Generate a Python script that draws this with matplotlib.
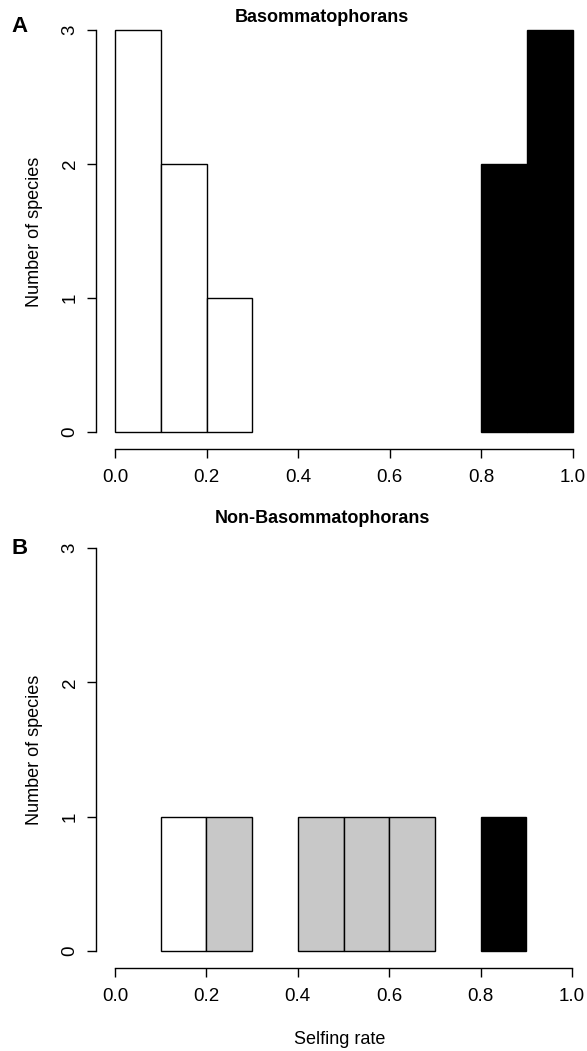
import matplotlib
matplotlib.use('Agg')
from matplotlib import pyplot as plt

plt.rcParams['font.family'] = ['Liberation Sans', 'DejaVu Sans']

# data
bin_edges = [0.0, 0.1, 0.2, 0.3, 0.4, 0.5, 0.6, 0.7, 0.8, 0.9]
basom_counts = [3, 2, 1, 0, 0, 0, 0, 0, 2, 3]
basom_colors = ['white', 'white', 'white', 'white', 'white', 'white', 'white', 'white', 'black', 'black']
nonbasom_counts = [0, 1, 1, 0, 1, 1, 1, 0, 1, 0]
nonbasom_colors = ['white', 'white', '#c8c8c8', 'white', '#c8c8c8', '#c8c8c8', '#c8c8c8', 'white', 'black', 'white']
x_ticks = [0.0, 0.2, 0.4, 0.6, 0.8, 1.0]
y_ticks = [0, 1, 2, 3]

W, H = 587, 1051
fig = plt.figure(figsize=(W / 100, H / 100), dpi=100)


def px_axes(left, top, right, bottom):
    return fig.add_axes([left / W, 1 - bottom / H, (right - left) / W, (bottom - top) / H])


def draw_panel(ax, counts, colors, x0_px, x1_px, y0_px, y3_px, left_px, right_px, top_px, bottom_px):
    xu = (x1_px - x0_px)
    yu = (y0_px - y3_px) / 3
    ax.set_xlim(-(x0_px - left_px) / xu, 1 + (right_px - x1_px) / xu)
    ax.set_ylim(-(bottom_px - y0_px) / yu, 3 + (y3_px - top_px) / yu)
    for edge, c, col in zip(bin_edges, counts, colors):
        if c > 0:
            ax.bar(edge, c, width=0.1, align='edge', color=col, edgecolor='black',
                   linewidth=1.0, clip_on=False)
    for s in ['top', 'right']:
        ax.spines[s].set_visible(False)
    ax.spines['left'].set_bounds(0, 3)
    ax.spines['bottom'].set_bounds(0, 1)
    ax.spines['left'].set_linewidth(1.0)
    ax.spines['bottom'].set_linewidth(1.0)
    ax.set_xticks(x_ticks)
    ax.set_xticklabels([f'{t:.1f}' for t in x_ticks])
    ax.set_yticks(y_ticks)
    ax.set_yticklabels([str(t) for t in y_ticks], rotation=90, va='center')
    ax.tick_params(axis='both', direction='out', length=6.5, width=1.0, labelsize=13.5)
    ax.tick_params(axis='x', pad=8)
    ax.tick_params(axis='y', pad=6)


# panel A
axA = px_axes(96, 14, 587, 449)
draw_panel(axA, basom_counts, basom_colors, 115, 573, 432, 30, 96, 587, 14, 449)
fig.text(322 / W, 1 - 17 / H, 'Basommatophorans', ha='center', va='center',
         fontsize=13, fontweight='bold')
fig.text(20 / W, 1 - 27 / H, 'A', ha='center', va='center', fontsize=16, fontweight='bold')
fig.text(35 / W, 1 - 232 / H, 'Number of species', ha='center', va='center',
         rotation=90, fontsize=13)

# panel B
axB = px_axes(96, 532, 587, 968)
draw_panel(axB, nonbasom_counts, nonbasom_colors, 115, 572, 951, 548, 96, 587, 532, 968)
fig.text(322 / W, 1 - 518 / H, 'Non-Basommatophorans', ha='center', va='center',
         fontsize=13, fontweight='bold')
fig.text(20 / W, 1 - 548 / H, 'B', ha='center', va='center', fontsize=16, fontweight='bold')
fig.text(35 / W, 1 - 750 / H, 'Number of species', ha='center', va='center',
         rotation=90, fontsize=13)
fig.text(340 / W, 1 - 1039 / H, 'Selfing rate', ha='center', va='center', fontsize=13)

fig.savefig('out.png', dpi=100)
